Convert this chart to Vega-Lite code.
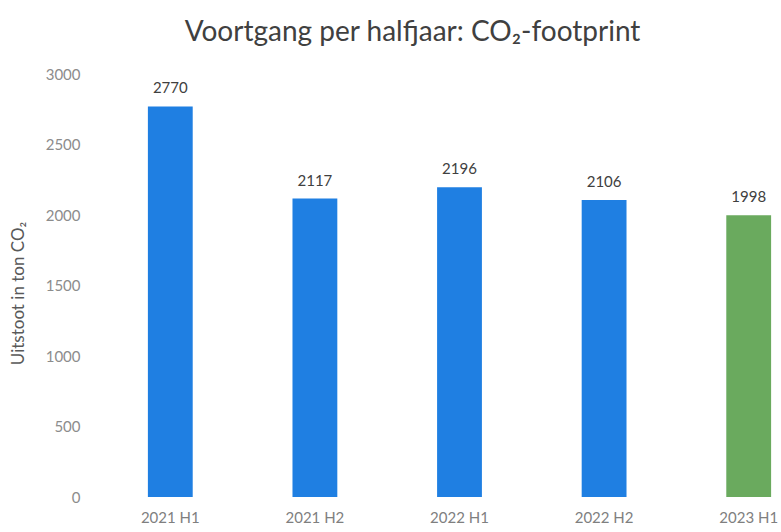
{
  "$schema": "https://vega.github.io/schema/vega-lite/v6.json",
  "autosize": "none",
  "width": 723,
  "height": 423,
  "padding": {"left": 98, "top": 74, "right": 0, "bottom": 35},
  "background": "white",
  "config": {"view": {"stroke": null}, "font": "Lato"},
  "title": {
    "text": "Voortgang per halfjaar: CO₂-footprint",
    "fontSize": 28,
    "font": "Lato",
    "fontWeight": "normal",
    "color": "#404040",
    "anchor": "middle",
    "offset": 20,
    "dx": -47
  },
  "data": {
    "values": [
      {"periode": "2021 H1", "uitstoot": 2770, "groep": "past"},
      {"periode": "2021 H2", "uitstoot": 2117, "groep": "past"},
      {"periode": "2022 H1", "uitstoot": 2196, "groep": "past"},
      {"periode": "2022 H2", "uitstoot": 2106, "groep": "past"},
      {"periode": "2023 H1", "uitstoot": 1998, "groep": "current"}
    ]
  },
  "encoding": {
    "x": {
      "field": "periode",
      "type": "nominal",
      "sort": null,
      "scale": {"paddingInner": 0.69, "paddingOuter": 0.345},
      "axis": {
        "title": null,
        "labelAngle": 0,
        "labelFontSize": 15,
        "labelColor": "#7f7f7f",
        "labelPadding": 13,
        "ticks": false,
        "domain": false
      }
    },
    "y": {
      "field": "uitstoot",
      "type": "quantitative",
      "scale": {"domain": [0, 3000], "nice": false},
      "axis": {
        "values": [0, 500, 1000, 1500, 2000, 2500, 3000],
        "format": "d",
        "title": "Uitstoot in ton CO₂",
        "titleFontSize": 17,
        "titleFontWeight": "normal",
        "titleColor": "#595959",
        "titleX": -80,
        "titleY": 219,
        "titleAlign": "center",
        "titleBaseline": "middle",
        "labelFontSize": 15,
        "labelColor": "#8c8c8c",
        "labelPadding": 18,
        "ticks": false,
        "domain": false,
        "grid": false
      }
    }
  },
  "layer": [
    {
      "mark": {"type": "bar"},
      "encoding": {
        "color": {
          "field": "groep",
          "type": "nominal",
          "scale": {"domain": ["past", "current"], "range": ["#1F7FE2", "#6AAA5E"]},
          "legend": null
        }
      }
    },
    {
      "mark": {"type": "text", "baseline": "bottom", "dy": -10, "fontSize": 15, "color": "#404040"},
      "encoding": {"text": {"field": "uitstoot", "type": "quantitative"}}
    }
  ]
}
